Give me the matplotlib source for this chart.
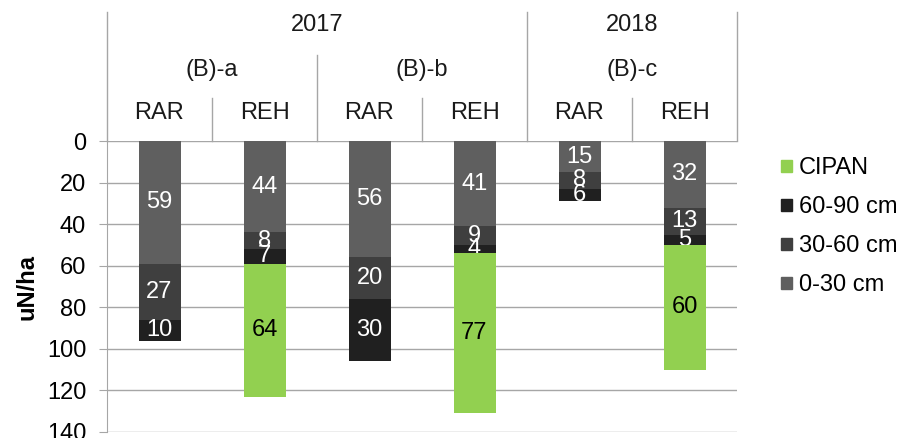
import matplotlib
matplotlib.use('Agg')
import matplotlib.pyplot as plt
from matplotlib.patches import Patch
import matplotlib.transforms as mtransforms

plt.rcParams['font.family'] = ['Liberation Sans', 'DejaVu Sans']

# ---- data ----
years = ['2017', '2018']
groups = ['(B)-a', '(B)-b', '(B)-c']
subs = ['RAR', 'REH', 'RAR', 'REH', 'RAR', 'REH']

l0_30 = [59, 44, 56, 41, 15, 32]
l30_60 = [27, 8, 20, 9, 8, 13]
l60_90 = [10, 7, 30, 4, 6, 5]
cipan = [0, 64, 0, 77, 0, 60]

c0_30 = '#5f5f5f'
c30_60 = '#3f3f3f'
c60_90 = '#202020'
c_cipan = '#92d050'
grid_c = '#a6a6a6'
fs = 17

fig = plt.figure(figsize=(9, 4.38), dpi=100)
ax = fig.add_axes([107/900, 1 - 432/438, 630/900, 291/438])

x = list(range(len(subs)))
w = 0.4
bottom = [0] * len(x)
layers = [(l0_30, c0_30, 'white'), (l30_60, c30_60, 'white'),
          (l60_90, c60_90, 'white'), (cipan, c_cipan, 'black')]
for vals, col, tcol in layers:
    bars = ax.bar(x, vals, w, bottom=bottom, color=col, zorder=3)
    labels = [str(v) if v > 0 else '' for v in vals]
    ax.bar_label(bars, labels=labels, label_type='center', color=tcol, fontsize=fs)
    bottom = [b + v for b, v in zip(bottom, vals)]

ax.set_xlim(-0.5, 5.5)
ax.set_ylim(140, 0)
ax.set_yticks(range(0, 141, 20))
ax.yaxis.grid(True, color=grid_c, linewidth=1, zorder=0)
ax.set_axisbelow(True)
ax.set_xticks([])
ax.tick_params(axis='y', length=6, color=grid_c, labelsize=fs, pad=9)
for s in ['top', 'right', 'bottom']:
    ax.spines[s].set_visible(False)
ax.spines['left'].set_color(grid_c)
ax.set_ylabel('uN/ha', fontsize=fs, fontweight='bold', labelpad=6)

# ---- header (multi-level category axis on top) ----
tr = mtransforms.blended_transform_factory(ax.transData, ax.transAxes)
top = 1 + 129/291
grp_top = 1 + 86/291
sub_top = 1 + 43/291

def vline(xx, y1, y2):
    ax.plot([xx, xx], [y1, y2], color=grid_c, lw=1, transform=tr, clip_on=False)

vline(-0.5, 1, top)
vline(5.5, 1, top)
vline(3.5, 1, top)
vline(1.5, 1, grp_top)
for xx in [0.5, 2.5, 4.5]:
    vline(xx, 1, sub_top)

txt_c = '#1a1a1a'
ax.text(1.5, 1 + 116/291, years[0], transform=tr, ha='center', va='center', fontsize=fs, color=txt_c)
ax.text(4.5, 1 + 116/291, years[1], transform=tr, ha='center', va='center', fontsize=fs, color=txt_c)
for i, g in enumerate(groups):
    ax.text(2*i + 0.5, 1 + 71/291, g, transform=tr, ha='center', va='center', fontsize=fs, color=txt_c)
for i, s in enumerate(subs):
    ax.text(i, 1 + 28/291, s, transform=tr, ha='center', va='center', fontsize=fs, color=txt_c)

# ---- legend ----
handles = [Patch(color=c_cipan, label='CIPAN'),
           Patch(color=c60_90, label='60-90 cm'),
           Patch(color=c30_60, label='30-60 cm'),
           Patch(color=c0_30, label='0-30 cm')]
fig.legend(handles=handles, loc='upper left', bbox_to_anchor=(772/900, 1 - 148/438),
           frameon=False, fontsize=fs, handlelength=0.45, handleheight=0.45,
           handletextpad=0.3, labelspacing=0.72, borderaxespad=0)

fig.savefig('out.png', dpi=100)
